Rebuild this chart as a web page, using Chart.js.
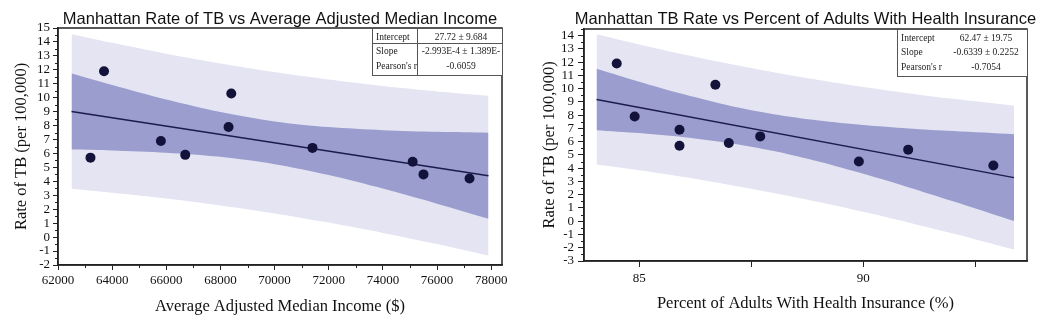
<!DOCTYPE html>
<html>
<head>
<meta charset="utf-8">
<script src="https://cdn.jsdelivr.net/npm/chart.js@4.4.1/dist/chart.umd.min.js"></script>
<style>
  html, body { margin: 0; padding: 0; background: #fff; }
  #wrap { position: relative; width: 1051px; height: 327px; }
  #c1 { position: absolute; left: 0; top: 0; }
  #c2 { position: absolute; left: 525px; top: 0; }
</style>
</head>
<body>
<div id="wrap">
  <canvas id="c1" width="525" height="327"></canvas>
  <canvas id="c2" width="526" height="327"></canvas>
</div>
<script>
// TB rate per area (per 100,000), same for both panels
const tbRate  = [5.7, 11.9, 6.9, 5.9, 7.9, 10.3, 6.4, 5.4, 4.5, 4.2];
const income  = [63200, 63700, 65800, 66700, 68300, 68400, 71400, 75100, 75500, 77200];
const insured = [85.9, 84.5, 85.9, 87.0, 84.9, 86.7, 87.7, 91.0, 89.9, 92.9];

// tick values
const incomeTicks  = [62000, 64000, 66000, 68000, 70000, 72000, 74000, 76000, 78000];
const insuredTicks = [85, 87.5, 90, 92.5];

// fitted line + confidence / prediction bands
const incomeFitX   = [62500, 77900];
const incomeFitY   = [9.01, 4.40];
const incomeBandX  = [62500, 64000, 66000, 68000, 70000, 72000, 74000, 76000, 77900];
const incomeConfHi = [11.74, 10.91, 9.87, 8.97, 8.30, 7.89, 7.67, 7.55, 7.49];
const incomeConfLo = [6.29, 6.22, 6.06, 5.76, 5.23, 4.45, 3.48, 2.40, 1.32];
const incomePredHi = [14.56, 13.94, 13.16, 12.46, 11.84, 11.30, 10.84, 10.45, 10.14];
const incomePredLo = [3.47, 3.19, 2.77, 2.27, 1.70, 1.04, 0.30, -0.50, -1.33];

const insuredFitX   = [84.05, 93.36];
const insuredFitY   = [9.19, 3.29];
const insuredBandX  = [84.05, 85, 86, 87, 88, 89, 90, 91, 92, 93.36];
const insuredConfHi = [11.51, 10.53, 9.57, 8.73, 8.07, 7.60, 7.26, 7.00, 6.80, 6.56];
const insuredConfLo = [6.87, 6.65, 6.34, 5.91, 5.30, 4.51, 3.58, 2.57, 1.51, 0.02];
const insuredPredHi = [14.11, 13.34, 12.58, 11.88, 11.24, 10.66, 10.13, 9.66, 9.23, 8.72];
const insuredPredLo = [4.27, 3.84, 3.33, 2.76, 2.13, 1.45, 0.71, -0.09, -0.93, -2.14];

// stats boxes
const statNames    = ['Intercept', 'Slope', "Pearson's r"];
const incomeStats  = ['27.72 \u00b1 9.684', '-2.993E-4 \u00b1 1.389E-', '-0.6059'];
const insuredStats = ['62.47 \u00b1 19.75', '-0.6339 \u00b1 0.2252', '-0.7054'];

const SERIF = '"Liberation Serif", "DejaVu Serif", serif';
const SANS = '"Liberation Sans", Arial, sans-serif';

const pts = (xs, ys) => xs.map((x, i) => ({ x: x, y: ys[i] }));

// title, frame, minor ticks and stats table
const extras = {
  id: 'extras',
  afterDraw(chart) {
    const o = chart.options.plugins.extras;
    const { ctx, chartArea: a } = chart;
    const xs = chart.scales.x, ys = chart.scales.y;
    ctx.save();

    // frame
    ctx.strokeStyle = '#222';
    ctx.lineWidth = 1.5;
    ctx.strokeRect(a.left, a.top, a.right - a.left, a.bottom - a.top);

    // minor ticks
    ctx.lineWidth = 1;
    ctx.beginPath();
    for (let v = Math.ceil(ys.min); v <= ys.max; v += 0.5) {
      if (Math.abs(v - Math.round(v)) < 1e-6) continue;
      const py = Math.round(ys.getPixelForValue(v)) + 0.5;
      ctx.moveTo(a.left - 3, py); ctx.lineTo(a.left, py);
    }
    if (o.xMinor) {
      for (let v = xs.min + o.xMinor; v <= xs.max; v += o.xMinor * 2) {
        const px = Math.round(xs.getPixelForValue(v)) + 0.5;
        ctx.moveTo(px, a.bottom); ctx.lineTo(px, a.bottom + 3);
      }
    }
    ctx.stroke();

    // title
    ctx.fillStyle = '#111';
    ctx.font = '16.5px ' + SANS;
    ctx.textAlign = 'center';
    ctx.textBaseline = 'middle';
    ctx.fillText(o.title, (a.left + a.right) / 2, 19);

    // stats table
    const tx = a.right - 130, tw = 130, ty = a.top, th = 47;
    ctx.fillStyle = '#fff';
    ctx.fillRect(tx, ty, tw, th);
    ctx.strokeStyle = '#555';
    ctx.lineWidth = 1;
    ctx.strokeRect(tx + 0.5, ty + 0.5, tw, th);
    if (o.tableLines) {
      ctx.beginPath();
      ctx.moveTo(tx + 45.5, ty); ctx.lineTo(tx + 45.5, ty + th);
      ctx.moveTo(tx, ty + 15.5); ctx.lineTo(tx + tw, ty + 15.5);
      ctx.stroke();
    }
    ctx.save();
    ctx.beginPath();
    ctx.rect(tx, ty, tw, th);
    ctx.clip();
    ctx.fillStyle = '#222';
    ctx.font = '9.5px ' + SERIF;
    statNames.forEach((n, i) => {
      const yy = ty + 9 + i * 14.5;
      ctx.textAlign = 'left';
      ctx.fillText(n, tx + 4, yy);
      ctx.textAlign = 'center';
      ctx.fillText(o.stats[i], tx + 89, yy);
    });
    ctx.restore();
    ctx.restore();
  }
};

function makeChart(id, c) {
  return new Chart(document.getElementById(id), {
    type: 'scatter',
    data: {
      datasets: [
        { data: pts(c.x, tbRate), pointRadius: 5, pointHoverRadius: 5,
          backgroundColor: '#12123a', borderWidth: 0, order: 0 },
        { data: pts(c.fitX, c.fitY), showLine: true, pointRadius: 0,
          borderColor: '#1c1c4c', borderWidth: 1.5, order: 1 },
        { data: pts(c.bandX, c.confHi), showLine: true, pointRadius: 0, tension: 0.3,
          borderWidth: 0, fill: '+1', backgroundColor: '#9a9dce', order: 2 },
        { data: pts(c.bandX, c.confLo), showLine: true, pointRadius: 0, tension: 0.3,
          borderWidth: 0, order: 2 },
        { data: pts(c.bandX, c.predHi), showLine: true, pointRadius: 0, tension: 0.3,
          borderWidth: 0, fill: '+1', backgroundColor: '#e4e4f2', order: 3 },
        { data: pts(c.bandX, c.predLo), showLine: true, pointRadius: 0, tension: 0.3,
          borderWidth: 0, order: 3 }
      ]
    },
    options: {
      responsive: false,
      animation: false,
      layout: { padding: { top: c.top, right: c.right, left: 0, bottom: 0 } },
      plugins: {
        legend: { display: false },
        tooltip: { enabled: false },
        extras: { title: c.title, stats: c.stats, xMinor: c.xMinor, tableLines: c.tableLines }
      },
      scales: {
        x: {
          type: 'linear', min: c.xMin, max: c.xMax,
          afterFit(s) { s.height = c.xH; },
          afterBuildTicks(s) { s.ticks = c.xTicks.map(v => ({ value: v })); },
          ticks: { autoSkip: false, maxRotation: 0,
                   padding: c.xPad, color: '#111', font: { family: SERIF, size: 13 },
                   callback: c.xLabel },
          grid: { drawOnChartArea: false, tickLength: c.tick, color: '#222' },
          border: { color: '#222', width: 1.5 },
          title: { display: true, text: c.xTitle, color: '#111',
                   font: { family: SERIF, size: 16.5 }, padding: { top: 0, bottom: c.xTitlePad } }
        },
        y: {
          type: 'linear', min: c.yMin, max: c.yMax,
          afterFit(s) { s.width = c.yW; },
          ticks: { stepSize: 1, includeBounds: false, autoSkip: false, padding: c.yPad,
                   color: '#111', font: { family: SERIF, size: 13 },
                   callback: v => String(v) },
          grid: { drawOnChartArea: false, tickLength: c.tick, color: '#222' },
          border: { color: '#222', width: 1.5 },
          title: { display: true, text: 'Rate of TB (per 100,000)', color: '#111',
                   font: { family: SERIF, size: 16.5 }, padding: { top: c.yTitlePad, bottom: 0 } }
        }
      }
    },
    plugins: [extras]
  });
}

makeChart('c1', {
  x: income, fitX: incomeFitX, fitY: incomeFitY, bandX: incomeBandX,
  confHi: incomeConfHi, confLo: incomeConfLo, predHi: incomePredHi, predLo: incomePredLo,
  xMin: 62000, xMax: 78400, xTicks: incomeTicks, xMinor: 1000, xLabel: v => String(v),
  yMin: -2, yMax: 15,
  top: 28, right: 23, xH: 62, yW: 58, tick: 5, xPad: 3, yPad: 3,
  xTitlePad: 10, yTitlePad: 12,
  xTitle: 'Average Adjusted Median Income ($)',
  title: 'Manhattan Rate of TB vs Average Adjusted Median Income',
  stats: incomeStats, tableLines: true
});

makeChart('c2', {
  x: insured, fitX: insuredFitX, fitY: insuredFitY, bandX: insuredBandX,
  confHi: insuredConfHi, confLo: insuredConfLo, predHi: insuredPredHi, predLo: insuredPredLo,
  xMin: 83.77, xMax: 93.65, xTicks: insuredTicks, xMinor: 0, xLabel: v => (v % 5 === 0 ? String(v) : ''),
  yMin: -3, yMax: 14.5,
  top: 29, right: 24, xH: 66, yW: 59, tick: 6, xPad: 4, yPad: 4,
  xTitlePad: 13, yTitlePad: 15,
  xTitle: 'Percent of Adults With Health Insurance (%)',
  title: 'Manhattan TB Rate vs Percent of Adults With Health Insurance',
  stats: insuredStats, tableLines: false
});
</script>
</body>
</html>
